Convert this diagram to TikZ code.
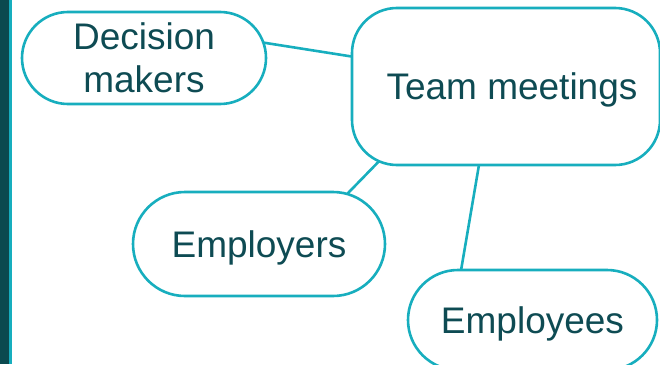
\documentclass[tikz,border=0pt]{standalone}
\usepackage{fontspec}
\setmainfont{Liberation Sans}
\usetikzlibrary{calc,backgrounds}
\definecolor{bordercol}{HTML}{17AEBE}
\definecolor{textcol}{HTML}{0E4B53}
\definecolor{barcol}{HTML}{0B4A4F}
\tikzset{
  bubble/.style={draw=bordercol, line width=2.6pt, fill=white, text=textcol,
    align=center, inner sep=0pt, outer sep=0pt,
    font=\fontsize{37}{43}\selectfont},
  oneline/.style={text height=26.5pt, text depth=0pt},
  link/.style={draw=bordercol, line width=2.6pt, shorten <=-12pt, shorten >=-12pt}
}

\begin{document}
\begin{tikzpicture}[x=1pt,y=-1pt]
            % frame
            \useasboundingbox (0,0) rectangle (660,364);
            % left bar
            \fill[barcol] (0,0) rectangle (9,364);
            \fill[bordercol] (9,0) rectangle (12,364);
            % coordinates
            \coordinate (dmc) at (144,58);     % decision makers centre
            \coordinate (tmc) at (506,86.5);   % team meetings centre
            \coordinate (erc) at (259,244);    % employers centre
            \coordinate (eec) at (532.5,320);  % employees centre
            % bubbles
            \node[bubble, minimum width=244pt, minimum height=92pt, rounded corners=46pt] (dm) at (dmc) {Decision\\makers};
            \node[bubble, oneline, minimum width=308pt, minimum height=157pt, rounded corners=45pt] (tm) at (tmc) {\hspace*{12pt}Team meetings};
            \node[bubble, oneline, minimum width=252pt, minimum height=104pt, rounded corners=52pt] (er) at (erc) {Employers};
            \node[bubble, oneline, minimum width=249pt, minimum height=100pt, rounded corners=50pt] (ee) at (eec) {Employees};
            % links, behind the bubbles
            \begin{scope}[on background layer]
                \draw[link] (dm.7) -- (tm.169);
                \draw[link] (tm.211) -- (er.30);
                \draw[link] (tm.251.7) -- (ee.145.8);
            \end{scope}
\end{tikzpicture}
\end{document}
